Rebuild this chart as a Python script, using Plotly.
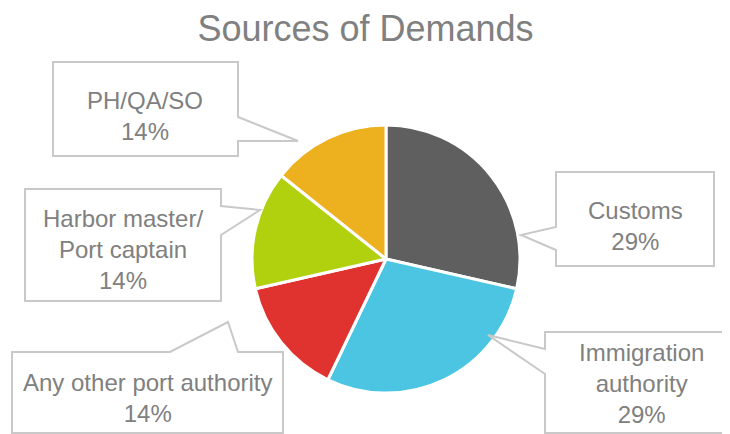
import plotly.graph_objects as go

# ---- data ----
categories = ["Customs", "Immigration authority", "Any other port authority",
              "Harbor master/ Port captain", "PH/QA/SO"]
label_lines = [["Customs"], ["Immigration", "authority"], ["Any other port authority"],
               ["Harbor master/", "Port captain"], ["PH/QA/SO"]]
values = [2, 2, 1, 1, 1]
colors = ["#5F5F5F", "#4CC5E2", "#E0332F", "#B1D10F", "#EDB120"]

# page body has an 8px margin; lay the figure out in window pixel space
OFF = 8
W, H = 730, 434
TEXT = "#808080"
BORDER = "#C9C9C9"

def px(x):
    return (x - OFF) / W

def py(y):
    return 1 - (y - OFF) / H

fig = go.Figure()
fig.add_trace(go.Pie(
    labels=categories, values=values, sort=False, direction="clockwise",
    rotation=0, textinfo="none", hole=0,
    marker=dict(colors=colors, line=dict(color="white", width=3)),
    domain=dict(x=[px(252), px(520)], y=[py(393), py(125)]),
    showlegend=False,
))

# callout geometry (window pixel space): outline path and text centre
callouts = [
    dict(path=[(556, 172), (714, 172), (714, 266), (556, 266), (556, 250), (521, 235), (556, 227)],
         tx=635, ty=226),
    dict(path=[(545, 332), (728, 332), (728, 433), (545, 433), (545, 374), (488, 335), (545, 349)],
         tx=641, ty=383),
    dict(path=[(12, 352), (170, 352), (228, 322), (238, 352), (283, 352), (283, 433), (12, 433)],
         tx=147, ty=398),
    dict(path=[(25, 189), (221, 189), (221, 206), (260, 210), (221, 235), (221, 301), (25, 301)],
         tx=123, ty=249),
    dict(path=[(53, 62), (238, 62), (238, 117), (298, 141), (238, 141), (238, 156), (53, 156)],
         tx=145, ty=116),
]

total = sum(values)
for lines, v, c in zip(label_lines, values, callouts):
    d = "M " + " L ".join(f"{px(x)},{py(y)}" for x, y in c["path"]) + " Z"
    fig.add_shape(type="path", path=d, xref="paper", yref="paper",
                  line=dict(color=BORDER, width=2), fillcolor="white", layer="above")
    pct = round(v / total * 100)
    txt = "<br>".join(lines + [f"{pct}%"])
    fig.add_annotation(x=px(c["tx"]), y=py(c["ty"]), xref="paper", yref="paper",
                       text=txt, showarrow=False, xanchor="center", yanchor="middle",
                       font=dict(family="Liberation Sans, Arial", size=24, color=TEXT))

fig.update_layout(
    width=W, height=H,
    margin=dict(l=0, r=0, t=0, b=0),
    paper_bgcolor="white", plot_bgcolor="white",
    title=dict(text="Sources of Demands", x=px(365.5), xanchor="center",
               y=py(28), yanchor="middle",
               font=dict(family="Liberation Sans, Arial", size=36, color=TEXT)),
)

fig.write_html("out.html")
